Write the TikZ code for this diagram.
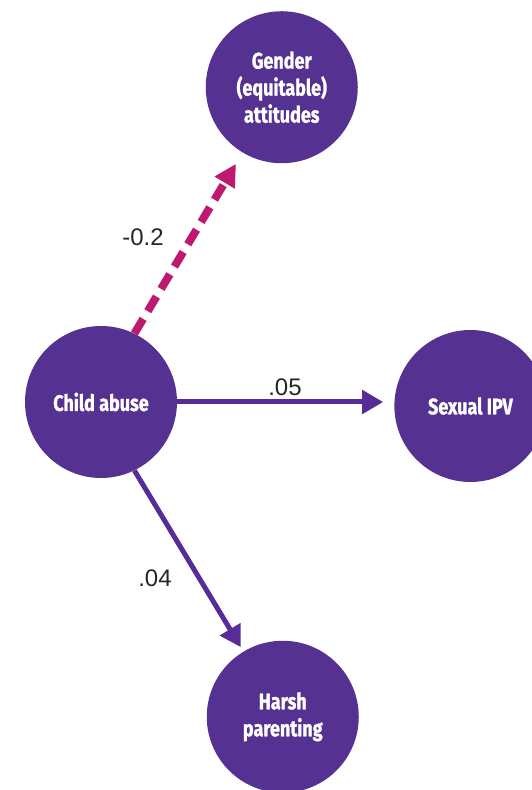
\documentclass[tikz,border=0pt]{standalone}
\usepackage{fontspec}
\setmainfont{Liberation Sans}
\newfontfamily\circfont[FakeStretch=0.8, FakeBold=1.2]{Fira Sans}
\usetikzlibrary{arrows.meta,positioning}
\definecolor{circpurple}{RGB}{85,49,145}
\definecolor{arrpurple}{RGB}{88,44,150}
\definecolor{dashmagenta}{RGB}{190,25,110}

\tikzset{
  var/.style={circle, fill=circpurple, text=white, minimum size=152pt, inner sep=0pt,
    align=center, font=\circfont\bfseries\fontsize{22.5}{27}\selectfont},
  effect/.style={draw=arrpurple, line width=5pt, -{Triangle[length=21pt,width=23pt]}},
  negeffect/.style={draw=dashmagenta, line width=8pt, dash pattern=on 17pt off 9pt,
    -{Triangle[length=22pt,width=22pt]}},
  coef/.style={font=\fontsize{24}{28}\selectfont, text=black!85}
}

\begin{document}
\begin{tikzpicture}[x=1pt, y=1pt]
      \useasboundingbox (0,0) rectangle (532,790);
      \node[var] (child) at (101,388) {Child abuse};
      \node[var] (gender) [above right=207pt and 73pt of child] {Gender\\(equitable)\\attitudes};
      \node[var] (sexual) [right=217pt of child, yshift=-4pt] {Sexual IPV};
      \node[var] (harsh) [below right=207pt and 74pt of child] {Harsh\\parenting};

      \draw[negeffect, shorten >=13pt] (child.64) -- (gender);
      \draw[effect, shorten >=11pt] (child.east) -- (child.east -| sexual.west);
      \draw[effect, shorten >=5pt] (child.-64) -- (harsh);

      \node[coef] (lgender) at (143,553) {-0.2};
      \node[coef] (lsexual) at (285,403) {.05};
      \node[coef] (lharsh) at (155,212) {.04};
    \end{tikzpicture}
\end{document}
